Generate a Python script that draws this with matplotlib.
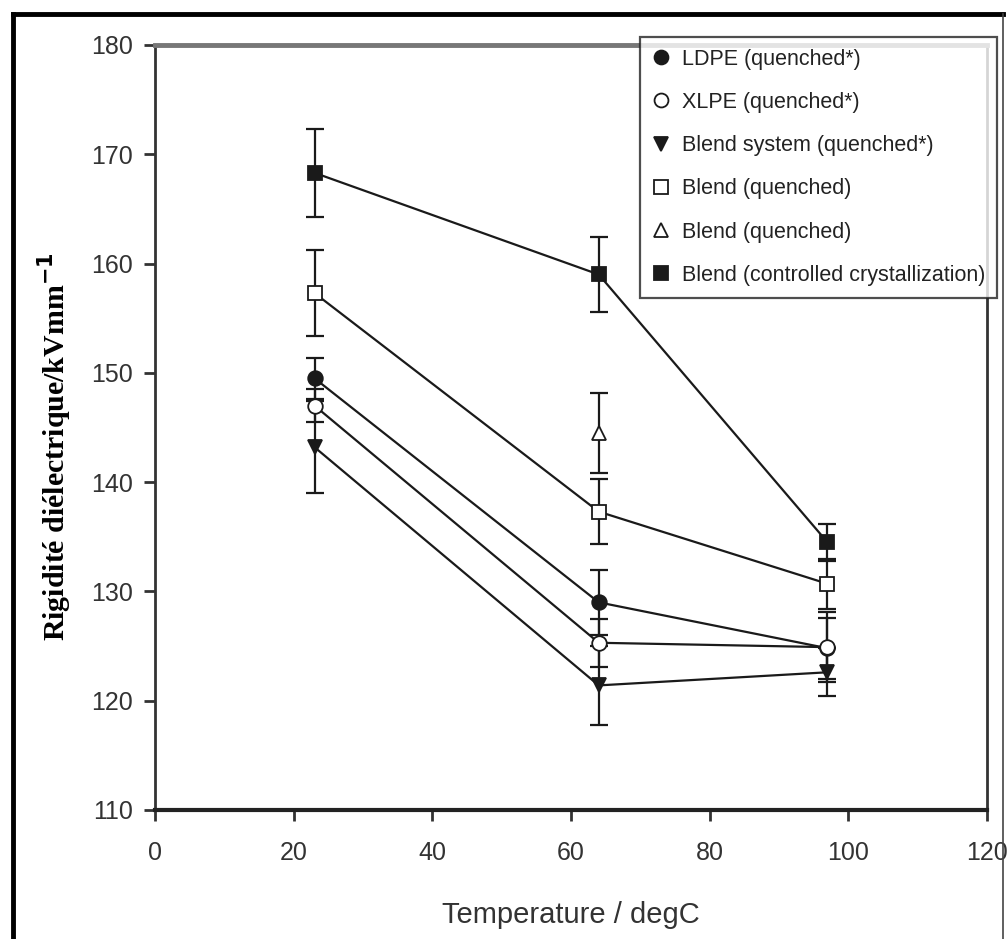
import matplotlib
matplotlib.use('Agg')
import matplotlib.pyplot as plt
from matplotlib.lines import Line2D

# data
temps = [23, 64, 97]

ldpe = [149.5, 129.0, 124.8]
ldpe_err = [1.9, 3.0, 2.8]

xlpe = [147.0, 125.3, 124.9]
xlpe_err = [1.5, 2.2, 3.2]

blend_sys = [143.2, 121.4, 122.6]
blend_sys_err = [4.2, 3.6, 2.2]

blend_q = [157.3, 137.3, 130.7]
blend_q_err = [3.9, 3.0, 2.3]

blend_q_tri_x = [64]
blend_q_tri = [144.5]
blend_q_tri_err = [3.7]

blend_cc = [168.3, 159.0, 134.5]
blend_cc_err = [4.0, 3.4, 1.7]

labels = ['LDPE (quenched*)', 'XLPE (quenched*)', 'Blend system (quenched*)',
          'Blend (quenched)', 'Blend (quenched)', 'Blend (controlled crystallization)']

xticks = [0, 20, 40, 60, 80, 100, 120]
yticks = [110, 120, 130, 140, 150, 160, 170, 180]

plt.rcParams['font.family'] = ['Liberation Sans', 'DejaVu Sans']

fig = plt.figure(figsize=(10.07, 9.39), dpi=100)
ax = fig.add_axes([0.154, 0.1374, 0.826, 0.8147])

lc = '#1a1a1a'
series = [
    (temps, ldpe, ldpe_err, 'o', lc, lc),
    (temps, xlpe, xlpe_err, 'o', 'white', lc),
    (temps, blend_sys, blend_sys_err, 'v', lc, lc),
    (temps, blend_q, blend_q_err, 's', 'white', lc),
    (blend_q_tri_x, blend_q_tri, blend_q_tri_err, '^', 'white', lc),
    (temps, blend_cc, blend_cc_err, 's', lc, lc),
]
handles = []
for i, (x, y, e, m, fc, ec) in enumerate(series):
    ax.errorbar(x, y, yerr=e, fmt='none', ecolor=lc, elinewidth=1.6,
                capsize=6.5, capthick=1.6, zorder=2)
    if len(x) > 1:
        ax.plot(x, y, '-', color=lc, lw=1.6, zorder=3)
    ax.plot(x, y, m, ms=10.5, mfc=fc, mec=ec, mew=1.3, ls='none', zorder=4)
    handles.append(Line2D([], [], marker=m, ms=10, mfc=fc, mec=ec, mew=1.3, ls='none'))

ax.set_xlim(0, 120)
ax.set_ylim(110, 180)
ax.set_xticks(xticks)
ax.set_yticks(yticks)
ax.tick_params(direction='out', length=8, width=2, labelsize=18, color='#333333',
               labelcolor='#333333', pad=8)
ax.tick_params(axis='x', pad=14)
for s in ['left', 'right']:
    ax.spines[s].set_linewidth(2)
    ax.spines[s].set_color('#333333')
ax.spines['bottom'].set_linewidth(3)
ax.spines['bottom'].set_color('#222222')
ax.spines['top'].set_linewidth(3.5)
ax.spines['top'].set_color('#777777')

ax.set_xlabel('Temperature / degC', fontsize=21, labelpad=26, color='#333333')
ax.set_ylabel('Rigidité diélectrique/kVmm$^{\\mathbf{-1}}$', fontsize=21.5,
              fontweight='bold', family='Liberation Serif')
ax.yaxis.set_label_coords(-0.098, 0.475)

leg = fig.legend(handles, labels, loc='upper right',
                 bbox_to_anchor=(997 / 1007, 1 - 37 / 939), fontsize=15.5,
                 frameon=True, fancybox=False, edgecolor='#222222',
                 handletextpad=0.5, handlelength=0.9, labelspacing=1.03,
                 borderpad=0.55, borderaxespad=0)
leg.get_frame().set_linewidth(1.6)
for t in leg.get_texts():
    t.set_color('#222222')

# outer frame of the image
fig.add_artist(Line2D([13 / 1007, 13 / 1007], [0, 1 - 14 / 939], color='black', lw=3.5,
                      transform=fig.transFigure))
fig.add_artist(Line2D([13 / 1007, 1003 / 1007], [1 - 14 / 939, 1 - 14 / 939], color='black',
                      lw=3.5, transform=fig.transFigure))
fig.add_artist(Line2D([1003 / 1007, 1003 / 1007], [0, 1 - 14 / 939], color='#444444', lw=1.2,
                      transform=fig.transFigure))

fig.savefig('out.png', dpi=100)
